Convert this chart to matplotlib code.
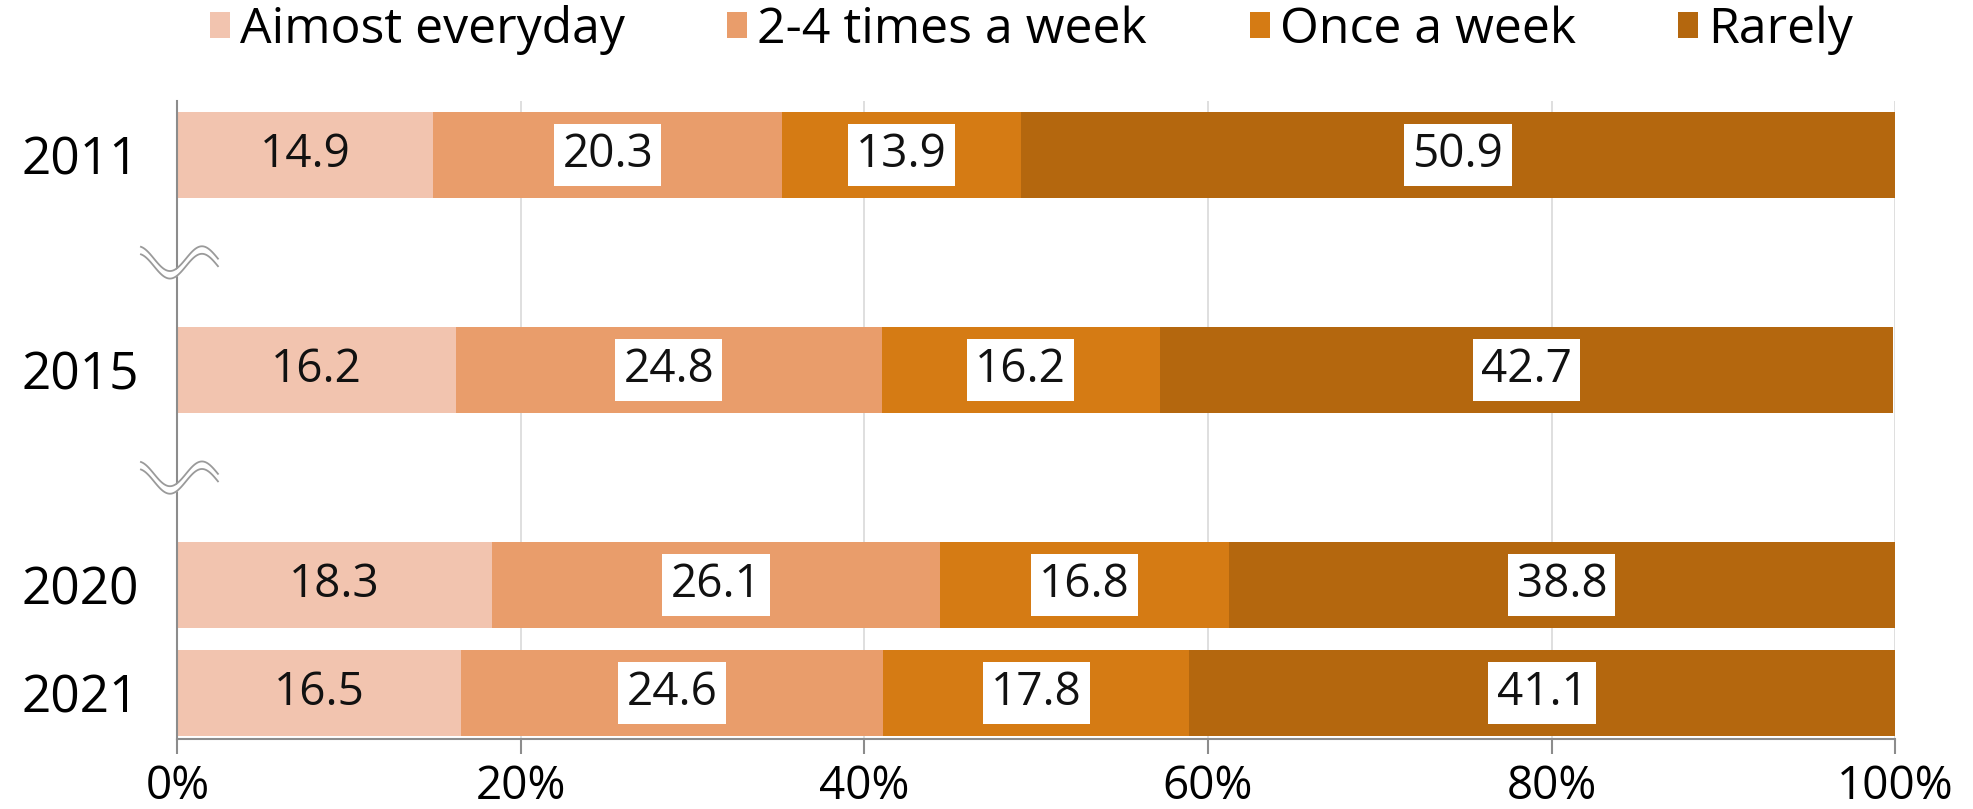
import numpy as np
import matplotlib
matplotlib.use("Agg")
import matplotlib.pyplot as plt
from matplotlib.patches import Patch
from matplotlib.transforms import blended_transform_factory

plt.rcParams['font.family'] = ['Open Sans', 'DejaVu Sans']

# ── Data ─────────────────────────────────────────────────────────────────────
years = ["2011", "2015", "2020", "2021"]
slots = [0, 2, 4, 5]          # empty slots 1 and 3 carry the axis breaks
categories = ["Aimost everyday", "2-4 times a week", "Once a week", "Rarely"]
almost_everyday = [14.9, 16.2, 18.3, 16.5]
two_four_week = [20.3, 24.8, 26.1, 24.6]
once_week = [13.9, 16.2, 16.8, 17.8]
rarely = [50.9, 42.7, 38.8, 41.1]

colors = ["#F2C4AF", "#E99D6B", "#D57B14", "#B4670E"]

series = [almost_everyday, two_four_week, once_week, rarely]

fig = plt.figure(figsize=(19.74, 8.09), dpi=100)
ax = fig.add_axes([0.0899, 0.0865, 0.8701, 0.7886])

left = np.zeros(len(years))
for i, (vals, col) in enumerate(zip(series, colors)):
    vals = np.array(vals)
    ax.barh(slots, vals, left=left, height=0.8, color=col, zorder=2)
    for y, l, v in zip(slots, left, vals):
        kw = {}
        if i > 0:
            kw["bbox"] = dict(boxstyle="square,pad=0.18", fc="white", ec="none")
        ax.text(l + v / 2, y, f"{v:.1f}", ha="center", va="center",
                fontsize=33, color="#111111", zorder=4, **kw)
    left += vals

ax.set_xlim(0, 100)
ax.set_ylim(5.43, -0.5)
ax.set_xticks(np.arange(0, 101, 20))
ax.set_xticklabels([f"{t}%" for t in range(0, 101, 20)])
ax.set_yticks(slots)
ax.set_yticklabels(years)
ax.tick_params(axis="y", length=0, pad=28, labelsize=37)
ax.tick_params(axis="x", length=11, width=1.5, color="#8c8c8c",
               direction="out", pad=7, labelsize=33)
ax.grid(axis="x", color="#d9d9d9", linewidth=1.2, zorder=0)
ax.set_axisbelow(True)
for s in ["top", "right"]:
    ax.spines[s].set_visible(False)
for s in ["left", "bottom"]:
    ax.spines[s].set_color("#8c8c8c")
    ax.spines[s].set_linewidth(1.5)

# ── Wavy break marks on the category axis ───────────────────────────────────
trans = blended_transform_factory(ax.transAxes, ax.transData)
px = np.linspace(141, 218, 120)                  # horizontal extent in pixels
xa = (px - 177.5) / 1717.5                       # -> axes fraction
wave = 0.115 * np.cos(2 * np.pi * (px - 170) / 64)
gap = 0.035
for yb in [1, 3]:
    upper = yb + wave - gap
    lower = yb + wave + gap
    ax.fill_between(xa, upper, lower, color="white", transform=trans,
                    zorder=5, clip_on=False, linewidth=0)
    ax.plot(xa, upper, color="#9a9a9a", lw=1.3, transform=trans,
            zorder=6, clip_on=False)
    ax.plot(xa, lower, color="#9a9a9a", lw=1.3, transform=trans,
            zorder=6, clip_on=False)

# ── Legend ───────────────────────────────────────────────────────────────────
handles = [Patch(facecolor=c, edgecolor="none") for c in colors]
fig.legend(handles, categories, loc="center", bbox_to_anchor=(0.5226, 0.963),
           ncol=4, frameon=False, fontsize=36, handlelength=0.4,
           handleheight=0.4, handletextpad=0.2, columnspacing=2.05)

fig.savefig("out.png", dpi=100)
